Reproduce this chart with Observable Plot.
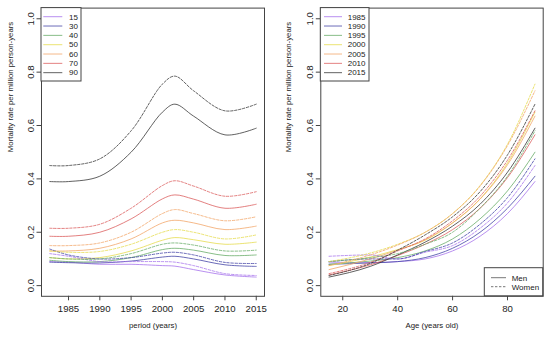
<!DOCTYPE html>
<html><head><meta charset="utf-8">
<script src="https://cdn.jsdelivr.net/npm/d3@7"></script>
<script src="https://cdn.jsdelivr.net/npm/@observablehq/plot@0.6"></script>
<style>
html,body{margin:0;padding:0;background:#fff;}
#chart{display:flex;width:550px;height:338px;}
#chart svg{display:block;}
</style></head><body><div id="chart"></div>
<script>
// ---- data ----
const years = [1982, 1985, 1990, 1995, 2000, 2002, 2005, 2010, 2015];
const ageGroups = [15, 30, 40, 50, 60, 70, 80, 90];
const leftAges = [15, 30, 40, 50, 60, 70, 90];
const rightYears = [1985, 1990, 1995, 2000, 2005, 2010, 2015];

const men15   = [0.090, 0.088, 0.080, 0.080, 0.075, 0.073, 0.060, 0.040, 0.032];
const women15 = [0.120, 0.110, 0.090, 0.090, 0.090, 0.088, 0.075, 0.045, 0.038];
const men30   = [0.088, 0.086, 0.085, 0.092, 0.107, 0.110, 0.100, 0.078, 0.072];
const women30 = [0.137, 0.115, 0.100, 0.105, 0.122, 0.125, 0.115, 0.087, 0.083];
const men40   = [0.095, 0.090, 0.090, 0.105, 0.135, 0.140, 0.133, 0.113, 0.115];
const women40 = [0.105, 0.100, 0.100, 0.120, 0.155, 0.160, 0.152, 0.130, 0.133];
const men50   = [0.105, 0.100, 0.105, 0.130, 0.170, 0.180, 0.172, 0.155, 0.163];
const women50 = [0.130, 0.125, 0.128, 0.155, 0.200, 0.210, 0.200, 0.175, 0.190];
const men60   = [0.130, 0.130, 0.140, 0.175, 0.235, 0.245, 0.235, 0.210, 0.223];
const women60 = [0.150, 0.150, 0.160, 0.200, 0.270, 0.285, 0.270, 0.243, 0.258];
const men70   = [0.185, 0.185, 0.200, 0.250, 0.325, 0.340, 0.324, 0.290, 0.305];
const women70 = [0.215, 0.215, 0.230, 0.290, 0.375, 0.393, 0.373, 0.335, 0.352];
const men80   = [0.270, 0.270, 0.290, 0.355, 0.460, 0.480, 0.453, 0.405, 0.425];
const women80 = [0.310, 0.310, 0.330, 0.410, 0.530, 0.555, 0.525, 0.470, 0.490];
const men90   = [0.390, 0.390, 0.410, 0.500, 0.650, 0.680, 0.635, 0.565, 0.590];
const women90 = [0.450, 0.450, 0.475, 0.580, 0.755, 0.785, 0.730, 0.655, 0.680];

const yearTicks = [1985, 1990, 1995, 2000, 2005, 2010, 2015];
const ageTicks = [20, 40, 60, 80];
const rateTicks = [0, 0.2, 0.4, 0.6, 0.8, 1.0];
const palette = ["#a874ec", "#4646a8", "#6aae6a", "#e6dc50", "#f2a86c", "#dc6060", "#3a3a3a"];
const sexLabels = ["Men", "Women"];
const leftXTitle = "period (years)";
const rightXTitle = "Age (years old)";
const yTitle = "Mortality rate per million person-years";

// ---- tidy table ----
const menByAge = [men15, men30, men40, men50, men60, men70, men80, men90];
const womenByAge = [women15, women30, women40, women50, women60, women70, women80, women90];
const rows = [];
ageGroups.forEach((age, a) => {
  years.forEach((year, i) => {
    rows.push({age, year, sex: "Men", rate: menByAge[a][i]});
    rows.push({age, year, sex: "Women", rate: womenByAge[a][i]});
  });
});

const font = "'Liberation Sans', Arial, Helvetica, sans-serif";
const ink = "#222";
const dash = "2.4,1.6";
const lineOpacity = 0.8;

function legendBox(svg, x0, y0, w, h, items) {
  const g = d3.select(svg).append("g").attr("font-family", font).attr("font-size", 8)
    .attr("fill", ink).attr("text-anchor", "start");
  g.append("rect").attr("x", x0).attr("y", y0).attr("width", w).attr("height", h)
    .attr("fill", "white").attr("stroke", "#444").attr("stroke-width", 1);
  items.forEach(it => {
    g.append("line").attr("x1", it.x1).attr("x2", it.x2).attr("y1", it.y).attr("y2", it.y)
      .attr("stroke", it.color).attr("stroke-width", 1).attr("stroke-opacity", lineOpacity)
      .attr("stroke-dasharray", it.dash || null);
    g.append("text").attr("x", it.tx).attr("y", it.y).attr("dy", "0.35em")
      .attr("text-anchor", "start").text(it.label);
  });
}

// ---- left panel ----
const leftRows = rows.filter(d => leftAges.includes(d.age));
const left = Plot.plot({
  width: 275, height: 338,
  marginLeft: 41, marginRight: 11, marginTop: 7.6, marginBottom: 42.2,
  style: {fontFamily: font, background: "white", color: ink},
  x: {domain: [1980.68, 2016.32]},
  y: {domain: [-0.04, 1.04]},
  color: {type: "ordinal", domain: leftAges, range: palette},
  marks: [
    Plot.axisX(yearTicks, {tickSize: 4.5, tickPadding: 4, fontSize: 9.6, label: null, tickFormat: d3.format("d"), stroke: "#444"}),
    Plot.axisY(rateTicks, {tickSize: 4.5, tickRotate: -90, tickPadding: 3, fontSize: 9.6, label: null, tickFormat: d3.format(".1f"), stroke: "#444"}),
    Plot.line(leftRows.filter(d => d.sex === "Men"), {x: "year", y: "rate", z: "age", stroke: "age", curve: "catmull-rom", strokeWidth: 1, strokeOpacity: lineOpacity}),
    Plot.line(leftRows.filter(d => d.sex === "Women"), {x: "year", y: "rate", z: "age", stroke: "age", curve: "catmull-rom", strokeWidth: 1, strokeOpacity: lineOpacity, strokeDasharray: dash}),
    Plot.frame({stroke: "#444"}),
    Plot.text([leftXTitle], {text: d => d, frameAnchor: "bottom", dy: 32, fontSize: 7.8}),
    Plot.text([yTitle], {text: d => d, frameAnchor: "left", dx: -31, rotate: -90, fontSize: 7.8})
  ]
});
legendBox(left, 41, 7.6, 40, 73.4, leftAges.map((a, i) => ({
  x1: 43.3, x2: 62.3, y: 16.7 + i * 9.33, tx: 69, label: String(a), color: palette[i]
})));

// ---- right panel ----
const rightRows = rows.filter(d => rightYears.includes(d.year));
const right = Plot.plot({
  width: 275, height: 338,
  marginLeft: 45.3, marginRight: 7.3, marginTop: 7.6, marginBottom: 42.2,
  style: {fontFamily: font, background: "white", color: ink},
  x: {domain: [12, 93]},
  y: {domain: [-0.04, 1.04]},
  color: {type: "ordinal", domain: rightYears, range: palette},
  marks: [
    Plot.axisX(ageTicks, {tickSize: 4.5, tickPadding: 4, fontSize: 9.6, label: null, stroke: "#444"}),
    Plot.axisY(rateTicks, {tickSize: 4.5, tickRotate: -90, tickPadding: 3, fontSize: 9.6, label: null, tickFormat: d3.format(".1f"), stroke: "#444"}),
    Plot.line(rightRows.filter(d => d.sex === "Men"), {x: "age", y: "rate", z: "year", stroke: "year", curve: "monotone-x", strokeWidth: 1, strokeOpacity: lineOpacity}),
    Plot.line(rightRows.filter(d => d.sex === "Women"), {x: "age", y: "rate", z: "year", stroke: "year", curve: "monotone-x", strokeWidth: 1, strokeOpacity: lineOpacity, strokeDasharray: dash}),
    Plot.frame({stroke: "#444"}),
    Plot.text([rightXTitle], {text: d => d, frameAnchor: "bottom", dy: 32, fontSize: 7.8}),
    Plot.text([yTitle], {text: d => d, frameAnchor: "left", dx: -32, rotate: -90, fontSize: 7.8})
  ]
});
legendBox(right, 45.3, 7.6, 48.7, 73.4, rightYears.map((y, i) => ({
  x1: 49, x2: 67, y: 16.7 + i * 9.33, tx: 72.7, label: String(y), color: palette[i]
})));
legendBox(right, 209.3, 267.7, 58.4, 28.1, sexLabels.map((s, i) => ({
  x1: 216, x2: 231, y: 277.7 + i * 9, tx: 236.7, label: s, color: "#555", dash: i ? dash : null
})));

document.getElementById("chart").append(left, right);
</script>
</body></html>
